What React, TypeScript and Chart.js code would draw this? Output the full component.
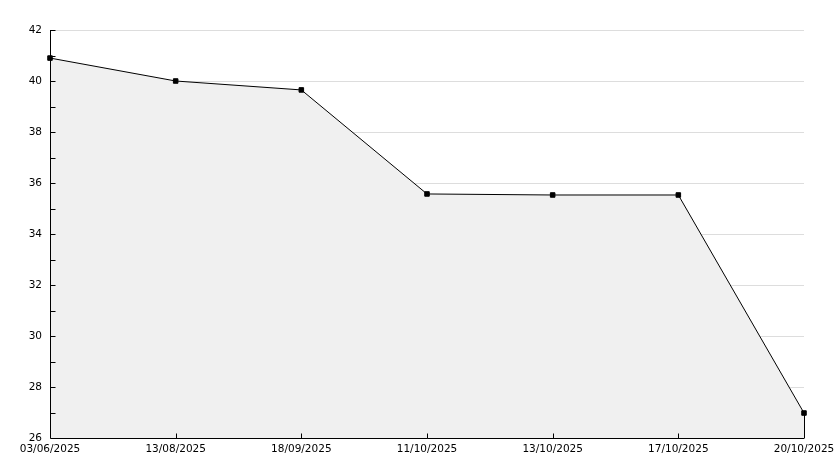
import React, { useEffect, useRef } from "react";
import { Chart, registerables } from "chart.js";

Chart.register(...registerables);

const labels = ["03/06/2025", "13/08/2025", "18/09/2025", "11/10/2025", "13/10/2025", "17/10/2025", "20/10/2025"];
const values = [40.9, 40.0, 39.65, 35.57, 35.53, 35.53, 26.98];
const yMin = 26;
const yMax = 42;
const yStep = 2;

const FONT = { family: "'DejaVu Sans', sans-serif", size: 10.5 };

const axisMarks = {
  id: "axisMarks",
  afterDatasetsDraw(chart: any) {
    const ctx = chart.ctx;
    const { left, right, top, bottom } = chart.chartArea;
    const x = chart.scales.x;
    const y = chart.scales.y;
    ctx.save();
    ctx.strokeStyle = "#000";
    ctx.lineWidth = 1;
    ctx.beginPath();
    const lft = Math.round(left) + 0.5;
    const btm = Math.round(bottom) + 0.5;
    // axis lines
    ctx.moveTo(lft, top);
    ctx.lineTo(lft, btm);
    ctx.lineTo(right, btm);
    // y ticks (major and minor) inside the plot
    for (let v = yMin + 1; v < yMax; v += 1) {
      const py = Math.round(y.getPixelForValue(v)) + 0.5;
      ctx.moveTo(lft, py);
      ctx.lineTo(lft + 5, py);
    }
    ctx.moveTo(lft, Math.round(top) + 0.5);
    ctx.lineTo(lft + 5, Math.round(top) + 0.5);
    // x ticks inside the plot
    for (let i = 1; i < labels.length - 1; i++) {
      const px = Math.round(x.getPixelForValue(i)) + 0.5;
      ctx.moveTo(px, btm);
      ctx.lineTo(px, btm - 5);
    }
    // right edge of the filled area
    const last = labels.length - 1;
    const lx = Math.round(x.getPixelForValue(last)) + 0.5;
    ctx.moveTo(lx, y.getPixelForValue(values[last]));
    ctx.lineTo(lx, btm);
    ctx.stroke();
    ctx.restore();
  },
};

export default function App() {
  const ref = useRef<HTMLCanvasElement>(null);
  useEffect(() => {
    if (!ref.current) return;
    const chart = new Chart(ref.current, {
      type: "line",
      data: {
        labels,
        datasets: [
          {
            data: values,
            borderColor: "#000",
            borderWidth: 1,
            backgroundColor: "#f0f0f0",
            fill: "origin",
            tension: 0,
            pointStyle: "rect",
            pointRadius: 3.2,
            pointBackgroundColor: "#000",
            pointBorderColor: "#000",
            pointBorderWidth: 1,
          },
        ],
      },
      options: {
        animation: false,
        responsive: false,
        maintainAspectRatio: false,
        layout: { padding: { top: 30, right: 30, left: 0, bottom: 0 } },
        plugins: { legend: { display: false }, tooltip: { enabled: false } },
        scales: {
          x: {
            offset: false,
            grid: { display: false, drawTicks: false },
            border: { display: false },
            ticks: { color: "#000", font: FONT, padding: 5, maxRotation: 0, autoSkip: false },
            afterFit: (s: any) => {
              s.height = 30;
              s.paddingLeft = 0;
              s.paddingRight = 0;
            },
          },
          y: {
            min: yMin,
            max: yMax,
            grid: { color: "#dddddd", lineWidth: 1, drawTicks: false },
            border: { display: false },
            ticks: { stepSize: yStep, color: "#000", font: FONT, padding: 8 },
            afterFit: (s: any) => {
              s.width = 50;
              s.paddingTop = 0;
              s.paddingBottom = 0;
            },
          },
        },
      },
      plugins: [axisMarks],
    });
    return () => chart.destroy();
  }, []);
  return (
    <div style={{ position: "absolute", left: 0, top: 0, width: 834, height: 468, background: "#fff" }}>
      <canvas ref={ref} width={834} height={468} style={{ display: "block" }} />
    </div>
  );
}
